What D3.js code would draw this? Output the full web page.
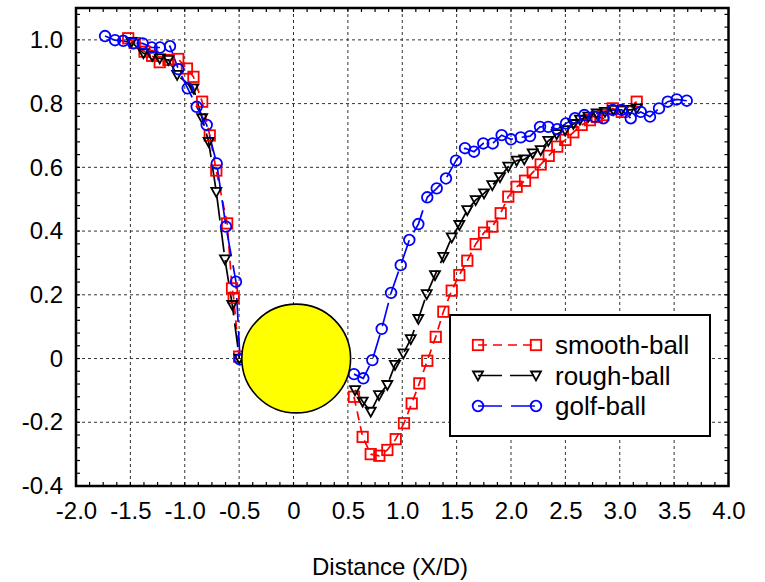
<!DOCTYPE html>
<html><head><meta charset="utf-8">
<script src="https://cdn.jsdelivr.net/npm/d3@7"></script>
<style>body{margin:0;background:#fff}svg{display:block}text{font-family:"Liberation Sans",Arial,sans-serif}</style>
</head><body><svg id="c" width="765" height="582"></svg>
<script>
const xTicks = [-2.0,-1.5,-1.0,-0.5,0,0.5,1.0,1.5,2.0,2.5,3.0,3.5,4.0];
const yTicks = [-0.4,-0.2,0,0.2,0.4,0.6,0.8,1.0];
const seriesNames = ["smooth-ball","rough-ball","golf-ball"];
const seriesColors = ["#ff0000","#000000","#0000ff"];
const xTitle = "Distance (X/D)";

const smoothFront = [[-1.52,1.005],[-1.46,0.99],[-1.37,0.963],[-1.30,0.95],[-1.23,0.93],[-1.15,0.937],[-1.06,0.94],[-0.98,0.91],[-0.92,0.884],[-0.84,0.806],[-0.77,0.70],[-0.71,0.59],[-0.61,0.424],[-0.565,0.22],[-0.55,0.19],[-0.50,0.006]];
const smoothWake = [[0.556,-0.12],[0.636,-0.246],[0.71,-0.30],[0.789,-0.305],[0.863,-0.287],[0.94,-0.253],[1.016,-0.203],[1.087,-0.141],[1.157,-0.078],[1.23,-0.007],[1.308,0.068],[1.378,0.147],[1.455,0.213],[1.525,0.262],[1.598,0.307],[1.675,0.359],[1.752,0.395],[1.828,0.414],[1.905,0.456],[1.975,0.508],[2.052,0.539],[2.129,0.558],[2.2,0.584],[2.273,0.609],[2.347,0.636],[2.425,0.665],[2.5,0.686],[2.573,0.71],[2.65,0.733],[2.726,0.748],[2.79,0.758],[2.849,0.764],[2.935,0.785],[3.018,0.774],[3.156,0.806]];
const roughFront = [[-1.49,0.994],[-1.38,0.958],[-1.30,0.95],[-1.23,0.942],[-1.15,0.937],[-1.07,0.89],[-0.92,0.848],[-0.84,0.754],[-0.78,0.68],[-0.71,0.523],[-0.63,0.311],[-0.563,0.168],[-0.498,0.0]];
const roughWake = [[0.566,-0.099],[0.636,-0.135],[0.71,-0.167],[0.786,-0.115],[0.863,-0.083],[0.933,-0.02],[1.01,0.016],[1.078,0.061],[1.148,0.124],[1.225,0.202],[1.301,0.262],[1.378,0.319],[1.455,0.38],[1.525,0.419],[1.598,0.466],[1.675,0.497],[1.752,0.518],[1.828,0.544],[1.899,0.569],[1.975,0.602],[2.052,0.621],[2.122,0.625],[2.199,0.644],[2.273,0.654],[2.343,0.683],[2.42,0.704],[2.497,0.717],[2.573,0.736],[2.634,0.75],[2.711,0.759],[2.788,0.769],[2.864,0.774],[2.941,0.78],[3.018,0.78],[3.094,0.78],[3.156,0.785]];
const golfFront = [[-1.733,1.012],[-1.641,0.999],[-1.565,0.997],[-1.473,0.989],[-1.387,0.989],[-1.304,0.976],[-1.228,0.976],[-1.136,0.98],[-1.059,0.908],[-0.973,0.848],[-0.89,0.79],[-0.798,0.733],[-0.706,0.612],[-0.621,0.414],[-0.529,0.241],[-0.492,-0.003]];
const golfWake = [[0.556,-0.049],[0.642,-0.062],[0.725,-0.005],[0.811,0.093],[0.897,0.206],[0.986,0.293],[1.065,0.372],[1.148,0.422],[1.23,0.506],[1.317,0.534],[1.402,0.565],[1.494,0.621],[1.577,0.66],[1.66,0.649],[1.745,0.675],[1.832,0.675],[1.914,0.701],[2.0,0.688],[2.089,0.694],[2.175,0.698],[2.267,0.727],[2.343,0.727],[2.426,0.72],[2.506,0.738],[2.589,0.754],[2.674,0.764],[2.766,0.759],[2.849,0.754],[2.935,0.78],[3.018,0.78],[3.101,0.754],[3.193,0.774],[3.278,0.759],[3.361,0.785],[3.441,0.806],[3.524,0.813],[3.616,0.809]];
const ball = {cx: 0.025, cy: 0, r: 0.5};

const svg = d3.select("#c");
const L=76, R=728.5, T=8, B=486;
const x = d3.scaleLinear([-2,4],[L,R]);
const y = d3.scaleLinear([-0.4,1.1],[B,T]);
const fmt = d => d===0 ? "0" : d.toFixed(1);

// grid
const g = svg.append("g");
g.selectAll("line.vx").data(xTicks.slice(1,-1)).join("line")
  .attr("x1",d=>x(d)).attr("x2",d=>x(d)).attr("y1",T).attr("y2",B)
  .attr("stroke","#333").attr("stroke-width",1).attr("stroke-dasharray","3,3");
g.selectAll("line.hy").data(yTicks.slice(1)).join("line")
  .attr("x1",L).attr("x2",R).attr("y1",d=>y(d)).attr("y2",d=>y(d))
  .attr("stroke","#333").attr("stroke-width",1).attr("stroke-dasharray","3,3");

// minor ticks on all sides
const xMinor = d3.range(0,49).map(i=>-2+i*0.125);
const yMinor = d3.range(0,38).map(i=>-0.4+i*0.04);
const tk = svg.append("g").attr("stroke","#000").attr("stroke-width",1.2);
xMinor.forEach(v=>{
  tk.append("line").attr("x1",x(v)).attr("x2",x(v)).attr("y1",B).attr("y2",B-4);
  tk.append("line").attr("x1",x(v)).attr("x2",x(v)).attr("y1",T).attr("y2",T+4);
});
yMinor.forEach(v=>{
  tk.append("line").attr("y1",y(v)).attr("y2",y(v)).attr("x1",L).attr("x2",L+4);
  tk.append("line").attr("y1",y(v)).attr("y2",y(v)).attr("x1",R).attr("x2",R-4);
});

// axis labels
const ax = svg.append("g").attr("transform",`translate(0,${B})`)
  .call(d3.axisBottom(x).tickValues(xTicks).tickFormat(fmt).tickSize(0).tickPadding(16));
ax.select(".domain").remove();
ax.selectAll("text").attr("font-size",24).attr("fill","#000").attr("font-family","Liberation Sans, Arial, sans-serif");
const ay = svg.append("g").attr("transform",`translate(${L},0)`)
  .call(d3.axisLeft(y).tickValues(yTicks).tickFormat(fmt).tickSize(0).tickPadding(13));
ay.select(".domain").remove();
ay.selectAll("text").attr("font-size",24).attr("fill","#000").attr("font-family","Liberation Sans, Arial, sans-serif");

svg.append("text").attr("x",390).attr("y",575).attr("text-anchor","middle")
  .attr("font-size",24).text(xTitle);

// series
const line = d3.line().x(d=>x(d[0])).y(d=>y(d[1]));
const dashes = ["9,6","24,8","24,9"];
const groups = [[smoothFront,smoothWake],[roughFront,roughWake],[golfFront,golfWake]];
const plot = svg.append("g");
function marker(sel, k, px, py){
  const c = seriesColors[k];
  if(k===0){
    sel.append("rect").attr("x",px-5.2).attr("y",py-5.2).attr("width",10.4).attr("height",10.4)
      .attr("fill","none").attr("stroke",c).attr("stroke-width",1.8);
  } else if(k===1){
    sel.append("path").attr("d",`M${px-5},${py-4}L${px+5},${py-4}L${px},${py+5}Z`)
      .attr("fill","none").attr("stroke",c).attr("stroke-width",1.8);
  } else {
    sel.append("circle").attr("cx",px).attr("cy",py).attr("r",5.3)
      .attr("fill","none").attr("stroke",c).attr("stroke-width",1.8);
  }
}
groups.forEach((segs,k)=>{
  segs.forEach(seg=>{
    plot.append("path").datum(seg).attr("d",line).attr("fill","none")
      .attr("stroke",seriesColors[k]).attr("stroke-width",1.7).attr("stroke-dasharray",dashes[k]);
  });
});
groups.forEach((segs,k)=>{
  segs.forEach(seg=>seg.forEach(d=>marker(plot,k,x(d[0]),y(d[1]))));
});

// ball
const rpx = x(ball.r)-x(0);
svg.append("circle").attr("cx",x(ball.cx)).attr("cy",y(ball.cy)).attr("r",rpx)
  .attr("fill","#ffff00").attr("stroke","#000").attr("stroke-width",1.6);

// frame
svg.append("rect").attr("x",L).attr("y",T).attr("width",R-L).attr("height",B-T)
  .attr("fill","none").attr("stroke","#000").attr("stroke-width",2.5);

// legend
const lg = svg.append("g");
lg.append("rect").attr("x",450).attr("y",315).attr("width",260).attr("height",121)
  .attr("fill","#fff").attr("stroke","#000").attr("stroke-width",2);
seriesNames.forEach((n,k)=>{
  const cy = 345 + k*30.5;
  lg.append("line").attr("x1",478).attr("x2",536).attr("y1",cy).attr("y2",cy)
    .attr("stroke",seriesColors[k]).attr("stroke-width",1.7).attr("stroke-dasharray",dashes[k]);
  marker(lg,k,478,cy); marker(lg,k,536,cy);
  lg.append("text").attr("x",555).attr("y",cy+9).attr("font-size",26).text(n);
});
</script></body></html>
